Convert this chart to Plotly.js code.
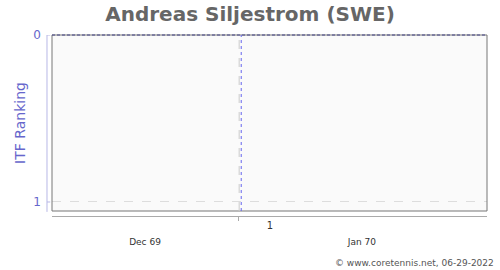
<!DOCTYPE html>
<html><head><meta charset="utf-8">
<script src="https://cdn.plot.ly/plotly-3.0.1.min.js"></script>
<style>html,body{margin:0;padding:0;background:#fff}</style>
</head><body><div id="chart" style="width:500px;height:270px"></div>
<script>
// data
const playerTitle = "Andreas Siljestrom (SWE)";
const rankDates = [];
const rankValues = [];
const xRange = ["1969-12-05 03:00", "1970-02-05 07:00"];
const yRange = [1.054, 0];
const yTickVals = [0, 1];
const monthTickVals = ["1969-12-18 10:00", "1970-01-18 10:00"];
const monthTickText = ["Dec 69", "Jan 70"];
const weekTickVals = ["1969-12-31 17:00"];
const weekTickText = ["1"];
const markerDates = ["1969-12-31 21:00", "1970-01-01 04:00"];
const credit = "© www.coretennis.net, 06-29-2022";

const font = "DejaVu Sans, sans-serif";
const traces = [
  {x: rankDates, y: rankValues, type: "scatter", mode: "lines", xaxis: "x", yaxis: "y", showlegend: false, hoverinfo: "skip"},
  {x: [], y: [], type: "scatter", xaxis: "x2", yaxis: "y", showlegend: false},
  {x: [], y: [], type: "scatter", xaxis: "x3", yaxis: "y", showlegend: false}
];
const layout = {
  width: 500, height: 270,
  margin: {l: 52, r: 13, t: 35, b: 54},
  paper_bgcolor: "#ffffff",
  plot_bgcolor: "#fafafa",
  showlegend: false,
  font: {family: font},
  title: {text: playerTitle, x: 0.5, xanchor: "center", y: 0.975, yanchor: "top",
          font: {family: font, size: 20, color: "#666666", weight: "bold"}},
  xaxis: {type: "date", range: xRange, showticklabels: false, ticks: "", showgrid: false,
          zeroline: false, showline: false, anchor: "y", fixedrange: true},
  xaxis2: {type: "date", range: xRange, overlaying: "x", anchor: "free", position: 0,
           tickmode: "array", tickvals: weekTickVals, ticktext: weekTickText,
           ticks: "outside", ticklen: 4, tickcolor: "#aaaaaa", tickwidth: 1,
           ticklabelshift: 32, ticklabelstandoff: -4,
           showline: true, linecolor: "#aaaaaa", linewidth: 1, showgrid: false, zeroline: false,
           tickfont: {family: font, size: 10, color: "#333333"}},
  xaxis3: {type: "date", range: xRange, overlaying: "x", anchor: "free", position: 0,
           tickmode: "array", tickvals: monthTickVals, ticktext: monthTickText,
           ticks: "", showline: false, showgrid: false, zeroline: false,
           ticklabelstandoff: 19,
           tickfont: {family: font, size: 9, color: "#333333"}},
  yaxis: {range: yRange, domain: [0.0276, 1], tickmode: "array", tickvals: yTickVals,
          ticks: "", showgrid: true, gridcolor: "#dddddd", griddash: "dash", gridwidth: 1,
          zeroline: false, showline: false, ticklabelstandoff: 10,
          tickfont: {family: font, size: 12, color: "#6666cc"},
          title: {text: "ITF Ranking", standoff: 4, font: {family: font, size: 14, color: "#6666cc"}}},
  shapes: [
    {type: "rect", xref: "x domain", yref: "y domain", x0: 0, x1: 1, y0: 0, y1: 1,
     line: {color: "#777777", width: 1}},
    {type: "line", xref: "x domain", yref: "y domain", x0: 0, x1: 1, y0: 1, y1: 1,
     line: {color: "#444488", width: 1, dash: "3px,2px"}},
    {type: "line", xref: "x domain", yref: "y domain", x0: -0.0115, x1: -0.0115, y0: -0.005, y1: 1,
     line: {color: "#b8b8e6", width: 1}},
    {type: "line", xref: "x domain", yref: "y", x0: -0.0115, x1: -0.004, y0: 0, y1: 0,
     line: {color: "#b8b8e6", width: 1}},
    {type: "line", xref: "x domain", yref: "y", x0: -0.0115, x1: -0.004, y0: 1, y1: 1,
     line: {color: "#b8b8e6", width: 1}},
    {type: "line", xref: "x", yref: "y domain", x0: markerDates[0], x1: markerDates[0], y0: 0, y1: 1,
     line: {color: "#cccccc", width: 1, dash: "dash"}},
    {type: "line", xref: "x", yref: "y domain", x0: markerDates[1], x1: markerDates[1], y0: 0, y1: 1,
     line: {color: "#6666ee", width: 1, dash: "dot"}}
  ],
  annotations: [
    {text: credit, xref: "paper", yref: "paper", x: 1.02, y: -0.262, xanchor: "right", yanchor: "middle",
     showarrow: false, font: {family: font, size: 9, color: "#555555"}}
  ]
};
Plotly.newPlot("chart", traces, layout, {displayModeBar: false, staticPlot: true});
</script>
</body></html>
